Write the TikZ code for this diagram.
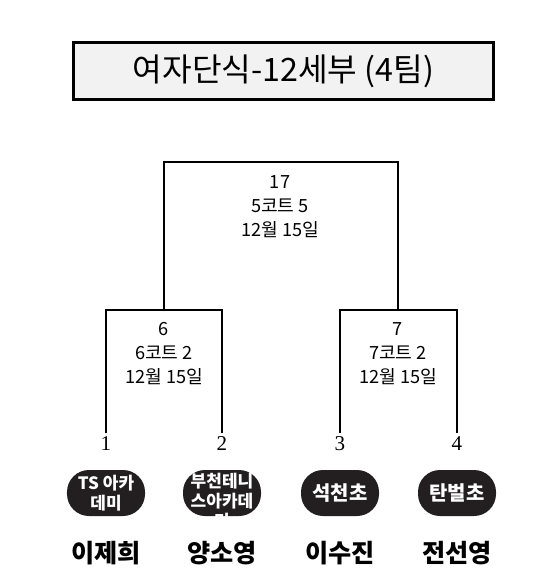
\documentclass[tikz,border=0pt]{standalone}
\usepackage{fontspec}
\setmainfont{Noto Sans CJK KR}
\newfontfamily\numfont{Liberation Serif}
\usepackage{xcolor}
\usetikzlibrary{positioning,calc}
\definecolor{badgeblack}{HTML}{231F20}
\definecolor{titlegray}{HTML}{F2F2F2}
\tikzset{
  titlebox/.style={
    rectangle, draw=black, fill=titlegray, line width=2.6pt,
    minimum width=12.6cm, minimum height=1.7cm,
    font=\fontsize{27.5}{30}\selectfont, inner sep=0pt
  },
  matchlabel/.style={
    align=center, font=\fontsize{15.5}{20.5}\selectfont, inner sep=0pt
  },
  seednum/.style={
    font=\numfont\fontsize{18}{20}\selectfont, inner sep=3pt
  },
  badge/.style={
    rectangle, rounded corners=0.66cm, fill=badgeblack,
    minimum width=2.34cm, minimum height=1.38cm, inner sep=0pt
  },
  badgetext/.style={
    text=white, align=center, inner sep=0pt,
    font=\bfseries\fontsize{14.5}{17}\selectfont
  },
  badgeshort/.style={
    badgetext, font=\bfseries\fontsize{17}{20}\selectfont
  },
  playername/.style={
    font=\bfseries\fontsize{21.5}{24}\selectfont, inner sep=0pt
  },
  bracket/.style={draw=black, line width=1.4pt}
}

\begin{document}
\begin{tikzpicture}[x=0.03cm, y=-0.03cm]
  \useasboundingbox (0,0) rectangle (550,584);
  % title
  \node[titlebox] (title) at (283.5,71) {여자단식-12세부 (4팀)};

  % bracket corners
  \coordinate (c17) at (280,162);
  \coordinate (c6) at (164,310);
  \coordinate (c7) at (398,310);

  % seeds
  \node[seednum] (n1) at (106,444) {1};
  \node[seednum] (n2) at (222,444) {2};
  \node[seednum] (n3) at (340,444) {3};
  \node[seednum] (n4) at (457,444) {4};

  \draw[bracket] (n1.north) |- (c6) -| (n2.north);
  \draw[bracket] (n3.north) |- (c7) -| (n4.north);
  \draw[bracket] (c6) |- (c17) -| (c7);

  % match labels
  \node[matchlabel] (m17) at (280,207) {17\\5코트 5\\12월 15일};
  \node[matchlabel] (m6) at (164,354) {6\\6코트 2\\12월 15일};
  \node[matchlabel] (m7) at (398,354) {7\\7코트 2\\12월 15일};

  % clubs
  \node[badge] (b1) at (106,493) {};
  \node[badge] (b2) at (222,493) {};
  \node[badge] (b3) at (340,493) {};
  \node[badge] (b4) at (457,493) {};
  \node[badgetext] (t1) at (b1) {TS 아카\\데미};
  \begin{scope}
    \clip[rounded corners=0.66cm] (b2.south west) rectangle (b2.north east);
    \node[badgetext, anchor=north] (t2) at ([yshift=-0.1cm]b2.north) {부천테니\\스아카데\\미};
  \end{scope}
  \node[badgeshort] (t3) at (b3) {석천초};
  \node[badgeshort] (t4) at (b4) {탄벌초};

  % players
  \node[playername] (p1) at (106,553) {이제희};
  \node[playername] (p2) at (222,553) {양소영};
  \node[playername] (p3) at (340,553) {이수진};
  \node[playername] (p4) at (457,553) {전선영};
\end{tikzpicture}
\end{document}
